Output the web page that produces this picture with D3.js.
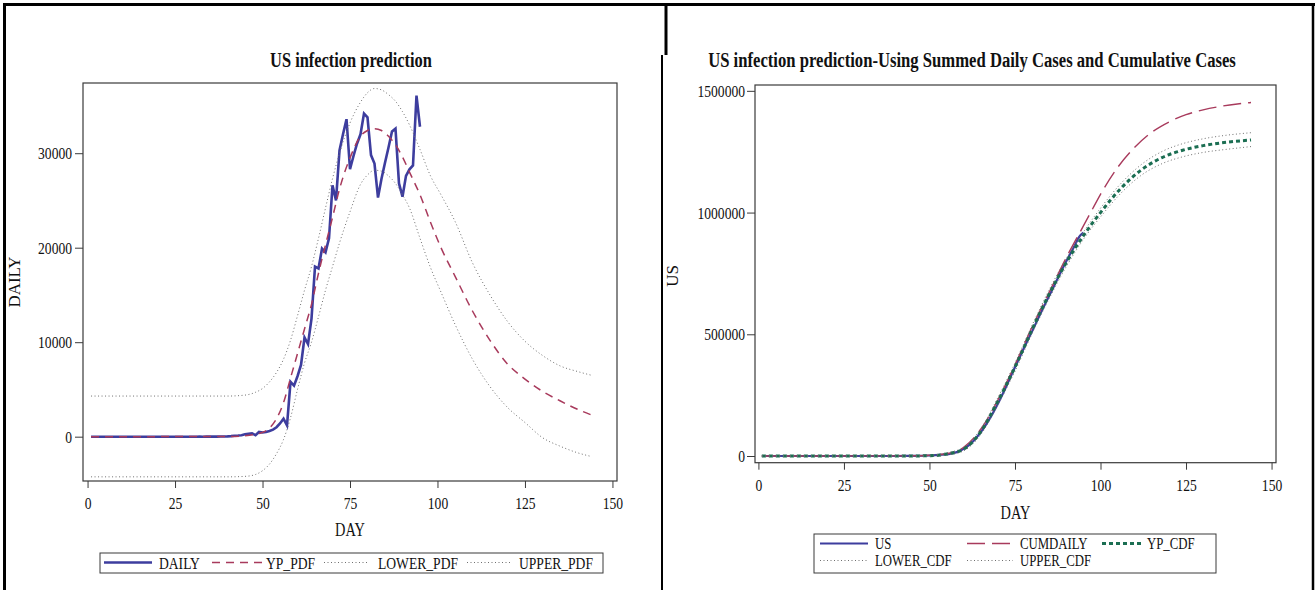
<!DOCTYPE html>
<html>
<head>
<meta charset="utf-8">
<script src="https://cdn.jsdelivr.net/npm/d3@7"></script>
<style>
  html, body { margin: 0; padding: 0; background: #fff; }
  svg { display: block; font-family: "Liberation Serif", "Times New Roman", serif; }
</style>
</head>
<body>
<svg id="chart"></svg>
<script>
const width = 1315;
const height = 590;

// --- Left chart data: daily cases (from day 1) ---
const dailyStartDay = 1;
const dailyValues = [
  0, 0, 0, 0, 0, 0, 0, 0, 0, 0,
  0, 0, 0, 0, 0, 0, 0, 0, 0, 0,
  0, 0, 0, 0, 0, 0, 0, 0, 0, 0,
  0, 1, 0, 2, 5, 3, 10, 15, 20, 30,
  60, 100, 120, 150, 250, 300, 350, 150, 500, 450,
  500, 600, 750, 1000, 1400, 1900, 1200, 5800, 5400, 6400,
  7600, 10500, 9800, 12500, 18000, 17800, 19900, 19500, 21000, 26600,
  25000, 30300, 32000, 33600, 28300, 29700, 31000, 32000, 34200, 33800,
  29800, 28900, 25300, 27300, 29000, 30600, 32300, 32600, 26800, 25400,
  27600, 28300, 28700, 36100, 32800
];

// model curves for the daily chart
const pdfDays = [1, 40, 45, 48, 50, 52, 54, 56, 58, 60, 62, 64, 66, 68, 70, 72, 75, 78, 80, 82,
                 84, 86, 88, 90, 92, 95, 98, 101, 105, 110, 115, 120, 125, 130, 135, 140, 144];
const ypPdf = [0, 20, 100, 250, 450, 900, 1900, 3600, 6200, 8800, 11400, 14000, 17300, 20300, 23200, 26200, 29500, 31800, 32400, 32600,
               32400, 31800, 30900, 29600, 28000, 25600, 22700, 20000, 17000, 13300, 10200, 7700, 6100, 4800, 3800, 2900, 2300];
const upperPdf = [4300, 4300, 4400, 4700, 5100, 5800, 6800, 8200, 10200, 12800, 15500, 18000, 21000, 24200, 27300, 30000, 33200, 35400, 36400, 36850,
                  36700, 36200, 35500, 34400, 33000, 30400, 27600, 25600, 22800, 18400, 15000, 12200, 10100, 8600, 7500, 6900, 6500];
const lowerPdf = [-4250, -4250, -4200, -4000, -3600, -2900, -1800, -300, 2000, 5000, 7800, 10000, 12700, 15500, 18000, 20500, 23800, 26700, 27700, 28200,
                  28100, 27600, 26800, 25600, 24200, 21000, 17900, 15300, 11900, 8200, 5300, 3100, 1500, -100, -1000, -1700, -2100];

// --- Right chart data: cumulative cases ---
const usDays = [1, 40, 45, 50, 53, 56, 58, 60, 62, 64, 66, 68, 70, 72, 74, 76, 78, 80, 82, 84, 86, 88, 90, 92, 94, 95];
const usValues = [0, 100, 500, 2000, 4500, 9000, 16000, 30000, 50000, 80000, 118000, 163000, 215000, 272000, 335000, 395000, 455000, 512000, 572000, 630000,
                  686000, 745000, 800000, 852000, 905000, 918000];

const cumDays = [1, 45, 50, 55, 60, 65, 70, 75, 80, 85, 90, 95, 97, 100, 105, 110, 115, 120, 125, 130, 135, 140, 144];
const cumDaily = [0, 800, 3000, 9000, 36000, 110000, 230000, 375000, 530000, 672000, 815000, 945000, 997000, 1075000, 1185000, 1268000,
                  1330000, 1372000, 1402000, 1422000, 1436000, 1446000, 1452000];

const cdfDays = [1, 45, 50, 55, 60, 65, 70, 75, 80, 85, 90, 95, 100, 106, 112, 118, 124, 130, 137, 144];
const ypCdf = [0, 300, 1000, 8000, 28000, 100000, 225000, 365000, 520000, 665000, 795000, 905000, 1000000, 1100000, 1176000, 1226000,
               1256000, 1275000, 1289000, 1298000];
const upperCdf = [2500, 2800, 4000, 13000, 36000, 112000, 240000, 382000, 537000, 683000, 812000, 920000, 1018000, 1120000, 1198000, 1251000,
                  1283000, 1303000, 1318000, 1328000];
const lowerCdf = [-2500, -2200, -1500, 3500, 21000, 88000, 210000, 348000, 503000, 647000, 778000, 890000, 982000, 1080000, 1154000, 1201000,
                  1229000, 1247000, 1260000, 1271000];

// tick values
const xTicks = [0, 25, 50, 75, 100, 125, 150];
const leftYTicks = [0, 10000, 20000, 30000];
const rightYTicks = [0, 500000, 1000000, 1500000];

// --- styles ---
const SX = 0.8; // the picture's text is narrow
const blue = "#3d3d9e";
const red = "#a83a5c";
const green = "#1b6e52";
const gray = "#6f6f6f";
const frameColor = "#3a3a3a";

const svg = d3.select("#chart")
  .attr("width", width)
  .attr("height", height)
  .attr("viewBox", [0, 0, width, height]);

// --- cell borders ---
const borders = [
  [3, 4.5, 1315, 4.5, 3],
  [4.5, 3, 4.5, 590, 3],
  [666, 3, 666, 55, 3],
  [662, 55, 662, 590, 2],
  [1313, 3, 1313, 590, 2.5]
];
borders.forEach(([x1, y1, x2, y2, w]) => {
  svg.append("line")
    .attr("x1", x1).attr("y1", y1).attr("x2", x2).attr("y2", y2)
    .attr("stroke", "#000").attr("stroke-width", w);
});

function label(g, x, y, str, size, opts = {}) {
  const t = g.append("text")
    .attr("transform", `translate(${x},${y})${opts.rotate ? " rotate(-90)" : ` scale(${SX},1)`}`)
    .attr("text-anchor", opts.anchor || "middle")
    .attr("font-size", size)
    .attr("fill", "#111")
    .text(str);
  if (opts.bold) t.attr("font-weight", "bold");
  return t;
}

// bold title squeezed to the width it has in the picture
function title(g, cx, y, str, targetWidth) {
  const t = g.append("text")
    .attr("text-anchor", "middle")
    .attr("font-size", 20)
    .attr("font-weight", "bold")
    .attr("fill", "#111")
    .text(str);
  const w = t.node().getComputedTextLength();
  t.attr("transform", `translate(${cx},${y}) scale(${targetWidth / w},1)`);
}

function squeezeTicks(g) {
  g.select(".domain").remove();
  g.selectAll(".tick line").attr("stroke", frameColor);
  g.selectAll(".tick text").each(function() {
    const t = d3.select(this);
    const x = +t.attr("x") || 0;
    const y = +t.attr("y") || 0;
    t.attr("x", null).attr("y", null)
      .attr("fill", "#111")
      .attr("transform", `translate(${x},${y}) scale(${SX},1)`);
  });
  g.attr("font-family", null).attr("font-size", 17);
}

function drawLine(g, xs, ys, days, vals, style) {
  const line = d3.line()
    .x((d, i) => xs(days[i]))
    .y(d => ys(d))
    .curve(style.curve || d3.curveMonotoneX);
  g.append("path")
    .datum(vals)
    .attr("fill", "none")
    .attr("stroke", style.color)
    .attr("stroke-width", style.width)
    .attr("stroke-dasharray", style.dash || null)
    .attr("d", line);
}

function legendSwatch(g, x1, x2, y, style) {
  g.append("line")
    .attr("x1", x1).attr("x2", x2).attr("y1", y).attr("y2", y)
    .attr("stroke", style.color)
    .attr("stroke-width", style.width)
    .attr("stroke-dasharray", style.dash || null);
}

// ================= LEFT CHART =================
const styleDaily = { color: blue, width: 2.6, curve: d3.curveLinear };
const stylePdf = { color: red, width: 1.5, dash: "8,6" };
const styleBound = { color: gray, width: 1, dash: "1,2.5" };

const xL = d3.scaleLinear().domain([-1.3, 151.3]).range([83, 617]);
const yL = d3.scaleLinear().domain([-4690, 37430]).range([481, 83]);
const gL = svg.append("g");

gL.append("rect")
  .attr("x", 83).attr("y", 83).attr("width", 534).attr("height", 398)
  .attr("fill", "none").attr("stroke", frameColor).attr("stroke-width", 1.2);

const dailyDays = dailyValues.map((d, i) => dailyStartDay + i);
drawLine(gL, xL, yL, dailyDays, dailyValues, styleDaily);
drawLine(gL, xL, yL, pdfDays, ypPdf, stylePdf);
drawLine(gL, xL, yL, pdfDays, lowerPdf, styleBound);
drawLine(gL, xL, yL, pdfDays, upperPdf, styleBound);

gL.append("g")
  .attr("transform", "translate(83,0)")
  .call(d3.axisLeft(yL).tickValues(leftYTicks).tickSize(8).tickPadding(3).tickFormat(d3.format("d")))
  .call(squeezeTicks);

gL.append("g")
  .attr("transform", "translate(0,481)")
  .call(d3.axisBottom(xL).tickValues(xTicks).tickSize(7).tickPadding(9).tickFormat(d3.format("d")))
  .call(squeezeTicks);

title(gL, 351, 67, "US infection prediction", 162);
label(gL, 350, 536, "DAY", 18);
label(gL, 20, 282, "DAILY", 17, { rotate: true });

// legend
gL.append("rect")
  .attr("x", 100).attr("y", 553).attr("width", 503).attr("height", 20)
  .attr("fill", "none").attr("stroke", frameColor).attr("stroke-width", 1);
const leftLegend = [
  { name: "DAILY", style: styleDaily, x1: 104, x2: 152, tx: 159 },
  { name: "YP_PDF", style: stylePdf, x1: 212, x2: 262, tx: 266 },
  { name: "LOWER_PDF", style: styleBound, x1: 324, x2: 368, tx: 378 },
  { name: "UPPER_PDF", style: styleBound, x1: 467, x2: 511, tx: 519 }
];
leftLegend.forEach(d => {
  legendSwatch(gL, d.x1, d.x2, 562.5, d.style);
  label(gL, d.tx, 568.5, d.name, 17, { anchor: "start" });
});

// ================= RIGHT CHART =================
const styleUS = { color: blue, width: 2.2 };
const styleCum = { color: red, width: 1.4, dash: "18,7" };
const styleYp = { color: green, width: 3, dash: "4,3" };

const xR = d3.scaleLinear().domain([-1, 151.3]).range([755, 1276]);
const yR = d3.scaleLinear().domain([-27500, 1524000]).range([462.7, 85]);
const gR = svg.append("g");

gR.append("rect")
  .attr("x", 755).attr("y", 85).attr("width", 521).attr("height", 377.7)
  .attr("fill", "none").attr("stroke", frameColor).attr("stroke-width", 1.2);

drawLine(gR, xR, yR, usDays, usValues, styleUS);
drawLine(gR, xR, yR, cumDays, cumDaily, styleCum);
drawLine(gR, xR, yR, cdfDays, ypCdf, styleYp);
drawLine(gR, xR, yR, cdfDays, lowerCdf, styleBound);
drawLine(gR, xR, yR, cdfDays, upperCdf, styleBound);

gR.append("g")
  .attr("transform", "translate(755,0)")
  .call(d3.axisLeft(yR).tickValues(rightYTicks).tickSize(8).tickPadding(2).tickFormat(d3.format("d")))
  .call(squeezeTicks);

gR.append("g")
  .attr("transform", "translate(0,462.7)")
  .call(d3.axisBottom(xR).tickValues(xTicks).tickSize(7).tickPadding(9).tickFormat(d3.format("d")))
  .call(squeezeTicks);

title(gR, 972, 67, "US infection prediction-Using Summed Daily Cases and Cumulative Cases", 528);
label(gR, 1015.5, 519, "DAY", 18);
label(gR, 678, 276, "US", 17, { rotate: true });

gR.append("rect")
  .attr("x", 814).attr("y", 534).attr("width", 402).attr("height", 39)
  .attr("fill", "none").attr("stroke", frameColor).attr("stroke-width", 1);
const rightLegend = [
  { name: "US", style: styleUS, x1: 820, x2: 868, tx: 875, row: 0 },
  { name: "CUMDAILY", style: styleCum, x1: 967, x2: 1013, tx: 1020, row: 0 },
  { name: "YP_CDF", style: styleYp, x1: 1102, x2: 1143, tx: 1147, row: 0 },
  { name: "LOWER_CDF", style: styleBound, x1: 820, x2: 868, tx: 875, row: 1 },
  { name: "UPPER_CDF", style: styleBound, x1: 967, x2: 1013, tx: 1020, row: 1 }
];
rightLegend.forEach(d => {
  const y = 543.5 + d.row * 17;
  legendSwatch(gR, d.x1, d.x2, y, d.style);
  label(gR, d.tx, y + 5.5, d.name, 16, { anchor: "start" });
});
</script>
</body>
</html>
